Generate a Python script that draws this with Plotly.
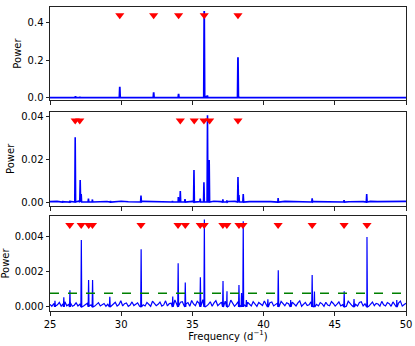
import numpy as np
import plotly.graph_objects as go

# ---------------- data ----------------
# Top panel: periodogram peaks
top_peak_freq = [26.79, 27.10, 29.90, 32.28, 34.03, 35.05, 35.83, 35.95, 36.05, 38.20, 38.26]
top_peak_power = [0.008, 0.004, 0.058, 0.028, 0.020, 0.004, 0.460, 0.010, 0.012, 0.215, 0.005]
top_noise = [0.0, 0.0]
top_marks = [29.90, 32.28, 34.03, 35.83, 38.20]
top_mark_y = 0.437

# Middle panel
mid_peak_freq = [25.90, 26.40, 26.77, 27.12, 27.19, 27.70, 27.98, 29.25, 31.39, 33.60, 34.01,
                 34.15, 34.48, 35.11, 35.55, 35.81, 36.06, 36.18, 37.14, 37.42, 38.20,
                 38.27, 38.57, 41.02, 43.41, 45.65, 47.24]
mid_peak_power = [0.0004, 0.0006, 0.0302, 0.0103, 0.0037, 0.0016, 0.0012, 0.0004, 0.0030, 0.0005, 0.0023,
                  0.0051, 0.0014, 0.0149, 0.0016, 0.0092, 0.0405, 0.0196, 0.0012, 0.0007, 0.0117,
                  0.0033, 0.0037, 0.0019, 0.0017, 0.0009, 0.0037]
mid_noise = [0.0002, 0.0003, 0.00015, 0.00025, 0.0004, 0.0002, 0.00015, 0.0003, 0.00025, 0.0002,
             0.00035, 0.00015, 0.0002, 0.0003, 0.00025, 0.00015, 0.0003, 0.0002, 0.0004, 0.00025,
             0.0003, 0.0002, 0.00015, 0.00035, 0.0002, 0.00025, 0.0003, 0.00015, 0.0002, 0.0003,
             0.00025, 0.0002, 0.00015, 0.0003, 0.0002, 0.00025, 0.00035, 0.0002, 0.00015, 0.00025,
             0.0003, 0.0002, 0.00015, 0.00025, 0.0002, 0.0003, 0.0002, 0.00015, 0.00025, 0.0002, 0.0003]
mid_marks = [26.77, 27.09, 34.15, 35.13, 35.81, 36.21, 38.20]
mid_mark_y = 0.038

# Bottom panel
bot_peak_freq = [25.35, 25.97, 26.40, 27.20, 27.71, 27.99, 29.20, 31.40, 33.62, 34.00, 34.50,
                 35.56, 35.84, 37.15, 37.43, 38.27, 38.45, 38.57, 38.79, 40.30, 41.03, 41.90,
                 43.41, 43.57, 45.66, 46.35, 47.26, 49.35]
bot_peak_power = [0.00035, 0.00055, 0.00095, 0.00383, 0.00154, 0.00154, 0.00058, 0.00330, 0.00060, 0.00250, 0.00140,
                  0.00170, 0.00500, 0.00149, 0.00090, 0.00126, 0.00080, 0.00490, 0.00040, 0.00044, 0.00210, 0.00040,
                  0.00183, 0.00088, 0.00090, 0.00045, 0.00400, 0.00040]
bot_noise = [1.5e-4, 0.4e-4, 2.0e-4, 0.6e-4, 1.2e-4, 2.6e-4, 0.5e-4, 1.8e-4, 3.0e-4, 0.7e-4, 1.4e-4, 2.2e-4, 0.4e-4,
             1.0e-4, 2.4e-4, 0.6e-4, 1.6e-4, 2.8e-4, 0.5e-4, 1.3e-4, 2.1e-4, 0.8e-4, 1.1e-4, 3.2e-4, 0.5e-4,
             1.7e-4, 2.5e-4, 0.6e-4, 1.2e-4, 2.0e-4, 0.4e-4, 1.5e-4, 3.4e-4, 0.7e-4, 1.8e-4, 2.7e-4, 0.5e-4,
             1.4e-4, 3.6e-4, 0.6e-4, 1.9e-4, 2.3e-4, 0.4e-4, 1.1e-4, 2.9e-4, 0.8e-4, 1.6e-4, 2.4e-4, 0.5e-4,
             3.1e-4, 1.3e-4, 0.6e-4, 2.6e-4, 1.7e-4, 0.4e-4, 3.3e-4, 2.0e-4, 0.7e-4, 1.5e-4, 2.8e-4, 0.5e-4,
             1.2e-4, 3.5e-4, 0.6e-4, 1.9e-4, 2.2e-4, 0.8e-4, 4.0e-4, 1.6e-4, 0.5e-4, 2.7e-4, 3.0e-4, 0.6e-4,
             1.8e-4, 2.5e-4, 0.4e-4, 3.7e-4, 1.7e-4, 0.7e-4, 3.2e-4, 2.1e-4, 0.5e-4, 4.2e-4, 2.6e-4, 0.6e-4,
             1.5e-4, 3.0e-4, 0.4e-4, 2.3e-4, 3.6e-4, 0.8e-4, 1.9e-4, 2.8e-4, 0.5e-4, 3.3e-4, 2.0e-4, 0.6e-4,
             3.9e-4, 2.4e-4, 0.4e-4, 1.6e-4, 3.1e-4, 0.7e-4, 2.2e-4, 1.4e-4, 0.5e-4, 2.7e-4, 1.9e-4, 0.6e-4,
             3.0e-4, 1.5e-4, 0.4e-4, 2.6e-4, 1.8e-4, 0.8e-4, 3.4e-4, 1.3e-4, 0.5e-4, 2.5e-4, 2.9e-4, 0.6e-4,
             1.7e-4, 2.2e-4, 0.4e-4, 3.2e-4, 1.6e-4, 0.7e-4, 2.4e-4, 1.9e-4, 0.5e-4, 2.8e-4, 1.4e-4, 0.6e-4,
             2.3e-4, 3.5e-4, 0.4e-4, 1.7e-4, 2.6e-4, 0.8e-4, 1.2e-4, 3.0e-4, 0.5e-4, 2.1e-4, 1.5e-4, 0.6e-4,
             2.5e-4, 1.8e-4, 0.4e-4, 2.7e-4, 1.1e-4, 0.7e-4, 3.1e-4, 2.0e-4, 0.5e-4, 1.6e-4, 2.9e-4, 0.6e-4,
             1.3e-4, 2.4e-4, 0.4e-4, 3.3e-4, 1.9e-4, 0.8e-4, 2.2e-4, 1.5e-4, 0.5e-4, 2.6e-4, 3.0e-4, 0.6e-4,
             1.8e-4, 2.3e-4, 0.4e-4, 1.4e-4, 2.8e-4, 0.7e-4, 2.0e-4, 1.7e-4, 0.5e-4, 3.2e-4, 1.2e-4, 0.6e-4,
             2.5e-4, 1.9e-4, 0.4e-4, 2.9e-4, 1.5e-4, 0.8e-4, 2.2e-4, 3.4e-4, 0.5e-4, 1.6e-4, 2.1e-4]
bot_marks = [26.39, 27.19, 27.72, 27.98, 31.39, 33.99, 34.50, 35.55, 35.83, 37.14, 37.42,
             38.27, 38.55, 41.02, 43.41, 45.65, 47.26]
bot_mark_y = 0.00469
threshold = 0.00078

x_ticks = [25, 30, 35, 40, 45, 50]

# ---------------- helpers ----------------
def spectrum(peak_f, peak_p, noise, hw=0.03):
    grid = np.linspace(25, 50, len(noise))
    pts = list(zip(grid, noise))
    for f, p in zip(peak_f, peak_p):
        pts += [(f - hw, 0.0), (f, p), (f + hw, 0.0)]
    pts.sort(key=lambda t: t[0])
    return [p[0] for p in pts], [p[1] for p in pts]

BLUE = "#0000ff"
RED = "#ff0000"
FONT = "DejaVu Sans"

fig = go.Figure()
panels = [
    (top_peak_freq, top_peak_power, top_noise, top_marks, top_mark_y, "y3", 1.8),
    (mid_peak_freq, mid_peak_power, mid_noise, mid_marks, mid_mark_y, "y2", 1.6),
    (bot_peak_freq, bot_peak_power, bot_noise, bot_marks, bot_mark_y, "y", 1.2),
]
xa = {"y3": "x3", "y2": "x2", "y": "x"}
for pf, pp, nz, mk, my, ya, lw in panels:
    xs, ys = spectrum(pf, pp, nz)
    fig.add_trace(go.Scatter(x=xs, y=ys, mode="lines", line=dict(color=BLUE, width=lw),
                             xaxis=xa[ya], yaxis=ya, showlegend=False, hoverinfo="skip"))
    if ya == "y":
        fig.add_trace(go.Scatter(x=[25, 50], y=[threshold, threshold], mode="lines",
                                 line=dict(color="#008000", width=1.5, dash="dash"),
                                 xaxis="x", yaxis="y", showlegend=False))
    fig.add_trace(go.Scatter(x=mk, y=[my] * len(mk), mode="markers",
                             marker=dict(symbol="triangle-down", color=RED, size=8, line=dict(width=0)),
                             xaxis=xa[ya], yaxis=ya, showlegend=False))

axis_common = dict(showline=True, linecolor="#222", linewidth=1, mirror=True, ticks="outside",
                   ticklen=3.5, tickwidth=0.8, tickcolor="#222", showgrid=False, zeroline=False,
                   automargin=False, tickfont=dict(family=FONT, size=10, color="black"))
tfont = dict(family=FONT, size=10, color="black")

fig.update_layout(
    width=415, height=346,
    margin=dict(l=50, r=9, t=7, b=35, autoexpand=False),
    paper_bgcolor="white", plot_bgcolor="white",
    font=dict(family=FONT, size=10, color="black"),
    xaxis=dict(domain=[0, 1], anchor="y", range=[25, 50], tickvals=x_ticks,
               title=dict(text="Frequency (d<sup>\u22121</sup>)", font=tfont, standoff=2),
               **axis_common),
    xaxis2=dict(domain=[0, 1], anchor="y2", range=[25, 50], tickvals=x_ticks, showticklabels=False,
                **axis_common),
    xaxis3=dict(domain=[0, 1], anchor="y3", range=[25, 50], tickvals=x_ticks, showticklabels=False,
                **axis_common),
    yaxis=dict(domain=[0, 0.3125], anchor="x", range=[-0.00023, 0.0052],
               tickvals=[0, 0.002, 0.004], ticktext=["0.000", "0.002", "0.004"],
               title=dict(text="Power", font=tfont, standoff=3), **axis_common),
    yaxis2=dict(domain=[0.345, 0.656], anchor="x2", range=[-0.0019, 0.0422],
                tickvals=[0, 0.02, 0.04], ticktext=["0.00", "0.02", "0.04"],
                title=dict(text="Power", font=tfont, standoff=4), **axis_common),
    yaxis3=dict(domain=[0.694, 1], anchor="x3", range=[-0.0122, 0.481],
                tickvals=[0, 0.2, 0.4], ticktext=["0.0", "0.2", "0.4"],
                title=dict(text="Power", font=tfont, standoff=4), **axis_common),
)

fig.write_html("out.html", config={"displayModeBar": False},
               post_script="document.body.style.margin='0';document.body.style.padding='0';")
